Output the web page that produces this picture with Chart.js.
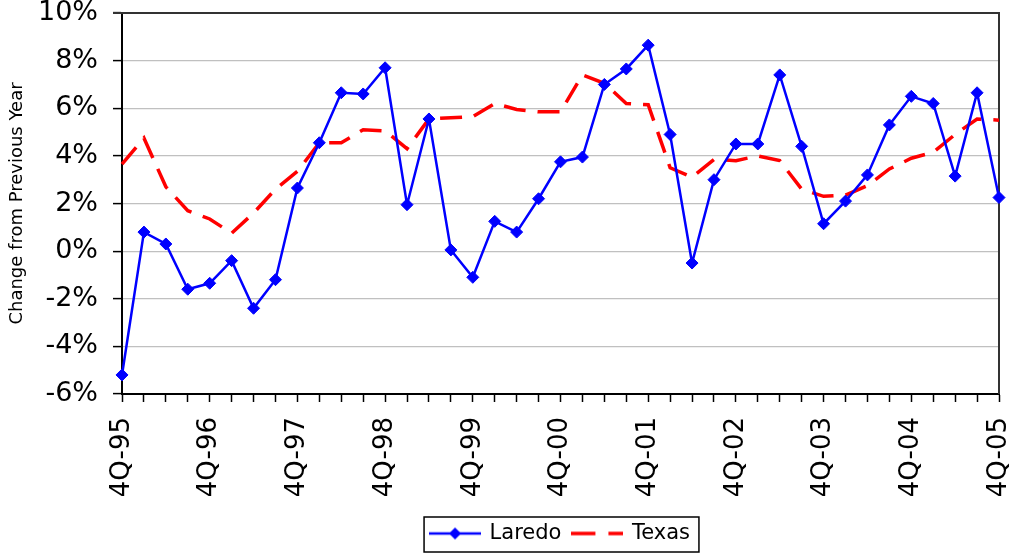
<!DOCTYPE html>
<html>
<head>
<meta charset="utf-8">
<script src="https://cdn.jsdelivr.net/npm/chart.js@4"></script>
<style>
  html, body { margin: 0; padding: 0; background: #fff; }
  #wrap { width: 1016px; height: 554px; }
</style>
</head>
<body>
<div id="wrap"><canvas id="chart" width="1016" height="554"></canvas></div>
<script>
// quarters 4Q-95 .. 4Q-05
const quarters = [
  "4Q-95","1Q-96","2Q-96","3Q-96","4Q-96","1Q-97","2Q-97","3Q-97","4Q-97",
  "1Q-98","2Q-98","3Q-98","4Q-98","1Q-99","2Q-99","3Q-99","4Q-99",
  "1Q-00","2Q-00","3Q-00","4Q-00","1Q-01","2Q-01","3Q-01","4Q-01",
  "1Q-02","2Q-02","3Q-02","4Q-02","1Q-03","2Q-03","3Q-03","4Q-03",
  "1Q-04","2Q-04","3Q-04","4Q-04","1Q-05","2Q-05","3Q-05","4Q-05"
];

// % change from previous year
const laredo = [
  -5.2, 0.8, 0.3, -1.6, -1.35, -0.4, -2.4, -1.2, 2.65,
  4.55, 6.65, 6.6, 7.7, 1.95, 5.55, 0.05, -1.1,
  1.25, 0.8, 2.2, 3.75, 3.95, 7.0, 7.65, 8.65,
  4.9, -0.5, 3.0, 4.5, 4.5, 7.4, 4.4, 1.15,
  2.1, 3.2, 5.3, 6.5, 6.2, 3.15, 6.65, 2.25
];
const texas = [
  3.65, 4.75, 2.7, 1.7, 1.35, 0.75, 1.6, 2.6, 3.35,
  4.55, 4.55, 5.1, 5.05, 4.3, 5.55, 5.6, 5.65,
  6.2, 5.95, 5.85, 5.85, 7.4, 7.05, 6.2, 6.15,
  3.5, 3.1, 3.85, 3.8, 4.0, 3.8, 2.6, 2.3,
  2.35, 2.75, 3.45, 3.9, 4.15, 4.9, 5.55, 5.5
];

const yMin = -6, yMax = 10, yStep = 2;
const font = "'DejaVu Sans', Verdana, sans-serif";

// small pictures for the legend (line + marker)
function legendSwatch(color, dashed, marker) {
  const c = document.createElement("canvas");
  c.width = 52; c.height = 14;
  const g = c.getContext("2d");
  g.strokeStyle = color;
  g.lineWidth = dashed ? 3.5 : 2.5;
  if (dashed) g.setLineDash([24, 13]);
  g.beginPath(); g.moveTo(0, 7); g.lineTo(52, 7); g.stroke();
  if (marker) {
    g.fillStyle = color;
    g.beginPath();
    g.moveTo(26, 1); g.lineTo(32, 7); g.lineTo(26, 13); g.lineTo(20, 7);
    g.closePath(); g.fill();
  }
  return c;
}
const swatches = [legendSwatch("#0000ff", false, true), legendSwatch("#ff0000", true, false)];

// top/right frame of the plot, legend box, legend centred under plot
const framePlugin = {
  id: "frame",
  afterLayout(chart) {
    const lg = chart.legend;
    const a = chart.chartArea;
    const dx = (a.left + a.right) / 2 - (lg.left + lg.right) / 2;
    lg.left += dx;
    lg.right += dx;
  },
  beforeDatasetsDraw(chart) {
    const { ctx, chartArea: a } = chart;
    ctx.save();
    ctx.strokeStyle = "#333";
    ctx.lineWidth = 2;
    ctx.beginPath();
    ctx.moveTo(a.left - 9, a.top);
    ctx.lineTo(a.right, a.top);
    ctx.lineTo(a.right, a.bottom);
    ctx.stroke();
    ctx.restore();
  },
  afterDraw(chart) {
    const hb = chart.legend.legendHitBoxes;
    if (!hb || !hb.length) return;
    const last = hb[hb.length - 1];
    const x0 = hb[0].left - 7;
    const x1 = last.left + last.width + 9;
    const y0 = hb[0].top - 6;
    const ctx = chart.ctx;
    ctx.save();
    ctx.strokeStyle = "#000";
    ctx.lineWidth = 1.5;
    ctx.strokeRect(x0, y0, x1 - x0, 35);
    ctx.restore();
  }
};

Chart.defaults.color = "#000";
Chart.defaults.font.family = font;

new Chart(document.getElementById("chart"), {
  type: "line",
  plugins: [framePlugin],
  data: {
    labels: quarters,
    datasets: [
      {
        label: "Laredo",
        data: laredo,
        borderColor: "#0000ff",
        backgroundColor: "#0000ff",
        borderWidth: 2.5,
        pointStyle: "rectRot",
        pointRadius: 6,
        pointBorderWidth: 1,
        pointBackgroundColor: "#0000ff",
        pointBorderColor: "#0000ff",
        tension: 0,
        clip: false
      },
      {
        label: "Texas",
        data: texas,
        borderColor: "#ff0000",
        backgroundColor: "#ff0000",
        borderWidth: 3.5,
        borderDash: [22, 12],
        pointRadius: 0,
        tension: 0,
        clip: false
      }
    ]
  },
  options: {
    responsive: false,
    animation: false,
    layout: { padding: { left: 0, right: 17, top: 13, bottom: 0 } },
    plugins: {
      tooltip: { enabled: false },
      legend: {
        position: "bottom",
        labels: {
          usePointStyle: true,
          pointStyleWidth: 48,
          padding: 12,
          color: "#000",
          font: { family: font, size: 21 },
          generateLabels(chart) {
            const items = Chart.defaults.plugins.legend.labels.generateLabels(chart);
            items.forEach((it, i) => { it.pointStyle = swatches[i]; });
            return items;
          }
        }
      }
    },
    scales: {
      x: {
        offset: false,
        border: { color: "#000", width: 2 },
        grid: { drawOnChartArea: false, tickLength: 8, tickColor: "#000", tickWidth: 1.5 },
        ticks: {
          autoSkip: false,
          minRotation: 90,
          maxRotation: 90,
          padding: 15,
          font: { family: font, size: 26 },
          callback: (v, i) => (quarters[i].startsWith("4Q") ? quarters[i] : "")
        },
        afterFit: (s) => { s.height = 117; s.paddingLeft = 0; s.paddingRight = 0; }
      },
      y: {
        min: yMin,
        max: yMax,
        border: { color: "#000", width: 2 },
        grid: { color: "#c0c0c0", lineWidth: 1.2, tickLength: 9, tickColor: "#000", tickWidth: 1.5 },
        ticks: {
          stepSize: yStep,
          padding: 15,
          font: { family: font, size: 27 },
          callback: (v) => v + "%"
        },
        title: {
          display: true,
          text: "Change from Previous Year",
          font: { family: font, size: 18 },
          padding: { top: 7, bottom: 0 }
        },
        afterFit: (s) => { s.width = 122; s.paddingTop = 0; s.paddingBottom = 0; }
      }
    }
  }
});
</script>
</body>
</html>
